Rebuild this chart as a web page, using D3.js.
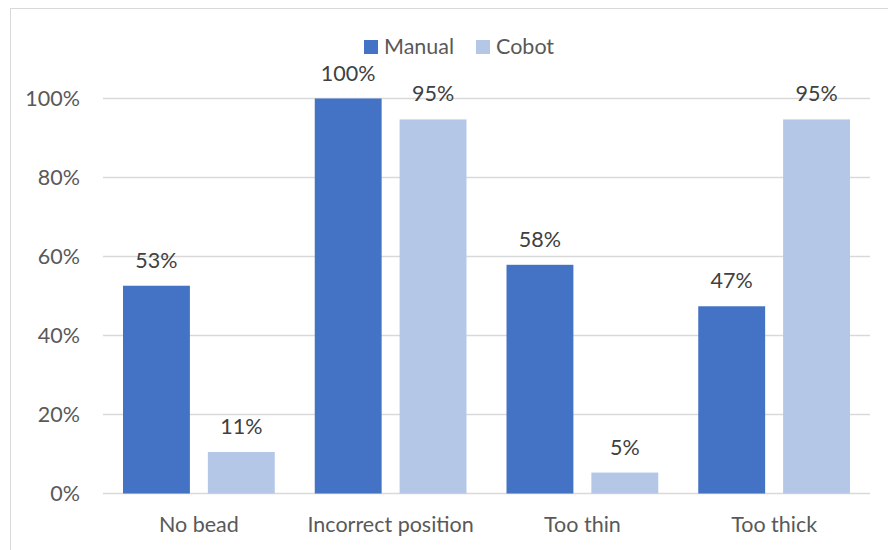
<!DOCTYPE html>
<html><head><meta charset="utf-8">
<script src="https://cdn.jsdelivr.net/npm/d3@7"></script>
<style>body{margin:0;background:#fff}svg{display:block}text{font-family:Lato,"Open Sans",sans-serif}</style>
</head><body><svg id="c" width="888" height="550"></svg>
<script>
const categories = ["No bead","Incorrect position","Too thin","Too thick"];
const seriesNames = ["Manual","Cobot"];
const manual = [52.6, 100, 57.9, 47.4];
const cobot = [10.5, 94.7, 5.3, 94.7];
const yTicks = [0,20,40,60,80,100];
const colors = ["#4472C4","#B4C7E7"];

(function(){
const FS = 21.5;
const svg = d3.select("#c");
svg.append("rect").attr("x",10.5).attr("y",8.5).attr("width",900).attr("height",600)
  .attr("fill","none").attr("stroke","#D9D9D9").attr("stroke-width",1);

const pl=103, pr=870, pt=98.5, pb=493.5;
const x = d3.scaleBand().domain(categories).range([pl,pr]).paddingInner(0).paddingOuter(0);
const y = d3.scaleLinear().domain([0,100]).range([pb,pt]);
const x1 = d3.scaleBand().domain(seriesNames).range([20, x.bandwidth()-20]).paddingInner(18/85);

svg.append("g").selectAll("line").data(yTicks).join("line")
  .attr("x1",pl).attr("x2",pr).attr("y1",d=>y(d)).attr("y2",d=>y(d))
  .attr("stroke","#D9D9D9").attr("stroke-width",1.3);

const yAxis = d3.axisLeft(y).tickValues(yTicks).tickFormat(d=>d+"%").tickSize(0).tickPadding(23);
const gy = svg.append("g").attr("transform",`translate(${pl},0)`).call(yAxis);
gy.select(".domain").remove();
gy.selectAll("text").attr("font-size",FS).attr("fill","#595959").attr("font-family","Lato");

const xAxis = d3.axisBottom(x).tickSize(0).tickPadding(23);
const gx = svg.append("g").attr("transform",`translate(0,${pb})`).call(xAxis);
gx.select(".domain").remove();
gx.selectAll("text").attr("font-size",FS).attr("fill","#595959").attr("font-family","Lato");

const data = categories.map((c,i)=>({c, vals:[manual[i],cobot[i]]}));
const groups = svg.append("g").selectAll("g").data(data).join("g")
  .attr("transform",d=>`translate(${x(d.c)},0)`);
groups.selectAll("rect").data(d=>d.vals.map((v,j)=>({v,s:seriesNames[j],j}))).join("rect")
  .attr("x",d=>x1(d.s)).attr("width",x1.bandwidth())
  .attr("y",d=>y(d.v)).attr("height",d=>pb-y(d.v))
  .attr("fill",d=>colors[d.j]);
groups.selectAll("text").data(d=>d.vals.map((v,j)=>({v,s:seriesNames[j],j}))).join("text")
  .attr("x",d=>x1(d.s)+x1.bandwidth()/2).attr("y",d=>y(d.v)-18)
  .attr("text-anchor","middle").attr("font-size",FS).attr("fill","#404040")
  .text(d=>Math.round(d.v)+"%");

const lg = svg.append("g");
const legendPos = [364, 476];
seriesNames.forEach((s,i)=>{
  lg.append("rect").attr("x",legendPos[i]).attr("y",40).attr("width",14).attr("height",14).attr("fill",colors[i]);
  lg.append("text").attr("x",legendPos[i]+20).attr("y",54).attr("font-size",FS).attr("fill","#595959").text(s);
});
})();
</script></body></html>
